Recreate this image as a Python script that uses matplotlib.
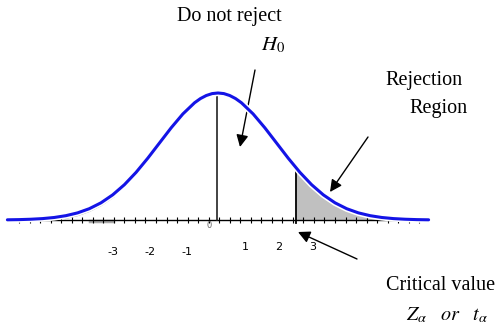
import numpy as np
import matplotlib.pyplot as plt

plt.rcParams['mathtext.fontset'] = 'stix'
plt.rcParams['font.family'] = ['Liberation Serif', 'DejaVu Serif']

# standard normal curve (z in sigma units)
z_pts = [-3.6, -3.4, -3.2, -3.0, -2.8, -2.6, -2.4, -2.2, -2.0, -1.8, -1.6, -1.4, -1.2,
         -1.0, -0.8, -0.6, -0.4, -0.3, -0.2, -0.1, 0.0, 0.1, 0.2, 0.3, 0.4, 0.6, 0.8,
         1.0, 1.2, 1.4, 1.6, 1.8, 2.0, 2.2, 2.4, 2.6, 2.8, 3.0, 3.2, 3.4, 3.6]
density = [0.0006, 0.0012, 0.0024, 0.0044, 0.0079, 0.0136, 0.0224, 0.0355, 0.0540, 0.0790,
           0.1109, 0.1497, 0.1942, 0.2420, 0.2897, 0.3332, 0.3683, 0.3814, 0.3910, 0.3970,
           0.3989, 0.3970, 0.3910, 0.3814, 0.3683, 0.3332, 0.2897, 0.2420, 0.1942, 0.1497,
           0.1109, 0.0790, 0.0540, 0.0355, 0.0224, 0.0136, 0.0079, 0.0044, 0.0024, 0.0012,
           0.0006]
crit_z = 1.333
crit_h = 0.164
tick_pos = [-1.79, -1.16, -0.53, 0.46, 1.03, 1.62]
tick_labels = ['-3', '-2', '-1', '1', '2', '3']

z = np.array(z_pts)
d = np.array(density)

W, H = 499, 334
def fxy(px, py):
    # pixel position -> figure fraction
    return (px / W, 1 - py / H)

fig = plt.figure(figsize=(W / 100, H / 100), dpi=100)
ax = fig.add_axes([0, 0, 1, 1])
ax.set_xlim(-218 / 58.5, (W - 218) / 58.5)
ax.set_ylim(-(H - 220) / 318.4, 220 / 318.4)
ax.axis('off')

# rejection region (right tail)
m = z > crit_z
zf = np.concatenate([[crit_z], z[m]])
df = np.concatenate([[crit_h], d[m]])
ax.fill_between(zf, 0, df, color='#c0c0c0', lw=0, zorder=1)

# faint grey on the left tail
m2 = (z >= -2.6) & (z <= -1.8)
ax.plot(z[m2], d[m2] - 0.006, color='#999999', lw=2, zorder=2)
ax.plot([-2.18, -1.79], [-0.004, -0.004], color='#aaaaaa', lw=2.5, zorder=2)

# baseline with small ticks
ax.plot([-3.56, 3.58], [0, 0], color='black', lw=1, zorder=3)
ticks = np.arange(-3.4, 3.6, 0.18)
ax.plot(ticks, np.zeros_like(ticks), ls='none', marker='|', ms=4, mew=0.8, color='black', zorder=3)

# centre line and critical value line
ax.plot([-0.02, -0.02], [0, 0.3989], color='#222222', lw=1.2, zorder=3)
ax.plot([crit_z, crit_z], [-0.008, crit_h + 0.005], color='black', lw=1.3, zorder=4)

# curve
ax.plot(z, d, color='white', lw=4.5, zorder=4, solid_capstyle='round')
ax.plot(z, d, color='#1414e6', lw=2.2, zorder=5, solid_capstyle='round', solid_joinstyle='round')

# tick labels under the axis
for p, lab in zip(tick_pos, tick_labels):
    yy = -0.10 if lab.startswith('-') else -0.085
    ax.text(p, yy, lab, fontsize=8, ha='center', va='center', family='DejaVu Sans')
fig.text(*fxy(209, 226), '0', fontsize=6, color='#666666', ha='center', va='center',
         family='DejaVu Sans')

# labels
fig.text(*fxy(229, 17), 'Do not reject', fontsize=14.5, ha='center', va='center')
fig.text(*fxy(273, 45), r'$H_0$', fontsize=15, ha='center', va='center')
fig.text(*fxy(424, 81), 'Rejection', fontsize=14.5, ha='center', va='center')
fig.text(*fxy(439, 108), 'Region', fontsize=14.5, ha='center', va='center')
fig.text(*fxy(441, 286), 'Critical value', fontsize=14.5, ha='center', va='center')
fig.text(*fxy(447, 315), r'$Z_{\alpha}\ \ \ or\ \ \ t_{\alpha}$', fontsize=14.5,
         ha='center', va='center')

# arrows
arrow = dict(arrowstyle='-|>', mutation_scale=18, lw=1, color='black', shrinkA=0, shrinkB=0)
ax.annotate('', xy=fxy(240, 147), xycoords='figure fraction',
            xytext=fxy(255, 70), textcoords='figure fraction', arrowprops=arrow)
ax.annotate('', xy=fxy(330, 192), xycoords='figure fraction',
            xytext=fxy(368, 137), textcoords='figure fraction', arrowprops=arrow)
ax.annotate('', xy=fxy(298, 232), xycoords='figure fraction',
            xytext=fxy(357, 259), textcoords='figure fraction', arrowprops=arrow)

fig.savefig('out.png', dpi=100)
